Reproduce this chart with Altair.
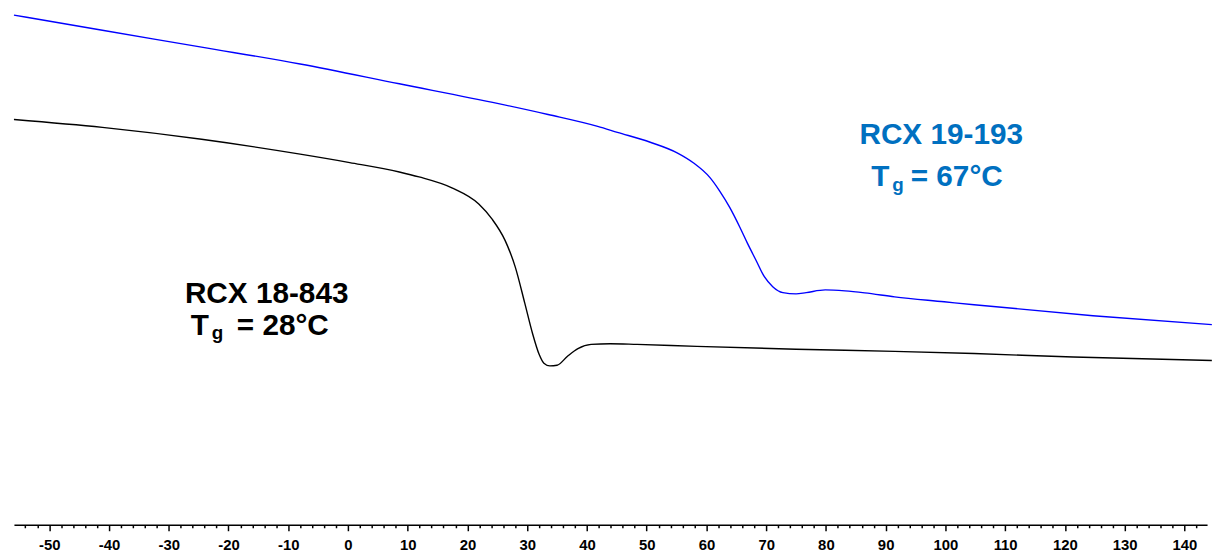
import altair as alt
import pandas as pd

# Temperature (°C) and heat-flow signal (arbitrary units)
blue_temp = [-55.9, -41.1, -24.5, -8.0, 8.6, 25.2, 33.5, 41.8, 45.1, 50.6, 55.1, 57.8,
             60.6, 62.2, 63.9, 65.6, 66.9, 68.3, 69.7, 71.1, 72.8, 75.0, 76.7, 79.9,
             83.2, 86.5, 91.5, 99.8, 104.8, 124.7, 144.6]
blue_heat = [514.3, 499, 482, 465, 445, 425, 414, 402, 396, 386, 375.3, 365.3,
             350.3, 337, 320.3, 300.3, 283.7, 267, 250.3, 240.3, 234.3, 233, 234.3, 237,
             236, 234, 230, 225, 222, 211, 202]

black_temp = [-55.9, -41.1, -24.5, -8.0, 0.3, 8.6, 11.9, 17.4, 21.9, 24.1, 26.3, 28.0,
              29.6, 30.9, 32.0, 32.8, 33.8, 35.0, 36.8, 38.5, 40.7, 43.9, 48.4, 58.4,
              75.0, 91.5, 104.8, 121.4, 144.6]
black_heat = [409, 401, 389, 374, 365.5, 356, 351, 340, 323.7, 308.7, 287, 260.3,
              223.7, 193, 172, 163, 160.3, 161, 170.3, 177.7, 182, 182.7, 182, 180,
              177.2, 175, 172.8, 169.3, 165.8]

series_names = ["RCX 19-193", "RCX 18-843"]
series_colors = ["#0000FF", "#000000"]
tick_values = list(range(-54, 146, 2))

# Annotation texts
title_text = ["RCX 18-843", "RCX 19-193"]
title_t = [-13.6, 99.3]
title_v = [224, 384]
title_color = ["#000000", "#0070C0"]

tg_text = ["T", "g", "= 28°C", "T", "g", "= 67°C"]
tg_t = [-26.3, -22.8, -18.6, 87.6, 91.1, 94.2]
tg_v = [192, 187, 192, 342, 337, 342]
tg_size = [30, 19, 30, 30, 19, 30]
tg_color = ["#000000"] * 3 + ["#0070C0"] * 3

df = pd.concat([
    pd.DataFrame({"T": blue_temp, "v": blue_heat, "s": series_names[0], "o": list(range(len(blue_temp)))}),
    pd.DataFrame({"T": black_temp, "v": black_heat, "s": series_names[1], "o": list(range(len(black_temp)))}),
])
df_title = pd.DataFrame({"T": title_t, "v": title_v, "text": title_text, "c": title_color})
df_tg = pd.DataFrame({"T": tg_t, "v": tg_v, "text": tg_text, "size": tg_size, "c": tg_color})

xscale = alt.Scale(domain=[-55.9, 143.8], nice=False, zero=False)
yscale = alt.Scale(domain=[0, 519], nice=False, zero=False)

xaxis = alt.Axis(
    values=tick_values, title=None, grid=False,
    labelExpr="datum.value % 10 === 0 ? (datum.value < 0 ? '-' + abs(datum.value) : '' + datum.value) : ''",
    labelFont="Liberation Sans", labelFontWeight="bold", labelFontSize=15, labelColor="#000000",
    labelPadding=7, labelOverlap=False, labelFlush=False, labelBound=False,
    tickSize={"condition": {"test": "datum.value % 10 === 0", "value": 6}, "value": 3},
    tickColor="#000000", tickWidth=1.5, domainColor="#000000", domainWidth=1.5,
)

lines = alt.Chart(df).mark_line(strokeWidth=1.4, interpolate="monotone").encode(
    x=alt.X("T:Q", scale=xscale, axis=xaxis),
    y=alt.Y("v:Q", scale=yscale, axis=None),
    color=alt.Color("s:N", scale=alt.Scale(domain=series_names, range=series_colors), legend=None),
    order="o:Q",
)

titles = alt.Chart(df_title).mark_text(
    font="Liberation Sans", fontWeight="bold", fontSize=30, align="center", baseline="alphabetic"
).encode(
    x=alt.X("T:Q", scale=xscale, axis=xaxis), y=alt.Y("v:Q", scale=yscale, axis=None),
    text="text:N", color=alt.Color("c:N", scale=None),
)

tg = alt.Chart(df_tg).mark_text(
    font="Liberation Sans", fontWeight="bold", align="left", baseline="alphabetic"
).encode(
    x=alt.X("T:Q", scale=xscale, axis=xaxis), y=alt.Y("v:Q", scale=yscale, axis=None),
    text="text:N", color=alt.Color("c:N", scale=None), size=alt.Size("size:Q", scale=None),
)

chart = alt.layer(lines, titles, tg).properties(
    width=1204, height=519,
    padding={"left": 3, "top": 0, "right": 0, "bottom": 0},
).configure_view(stroke=None)

chart.save("out.html", embed_options={"renderer": "svg", "actions": False})
